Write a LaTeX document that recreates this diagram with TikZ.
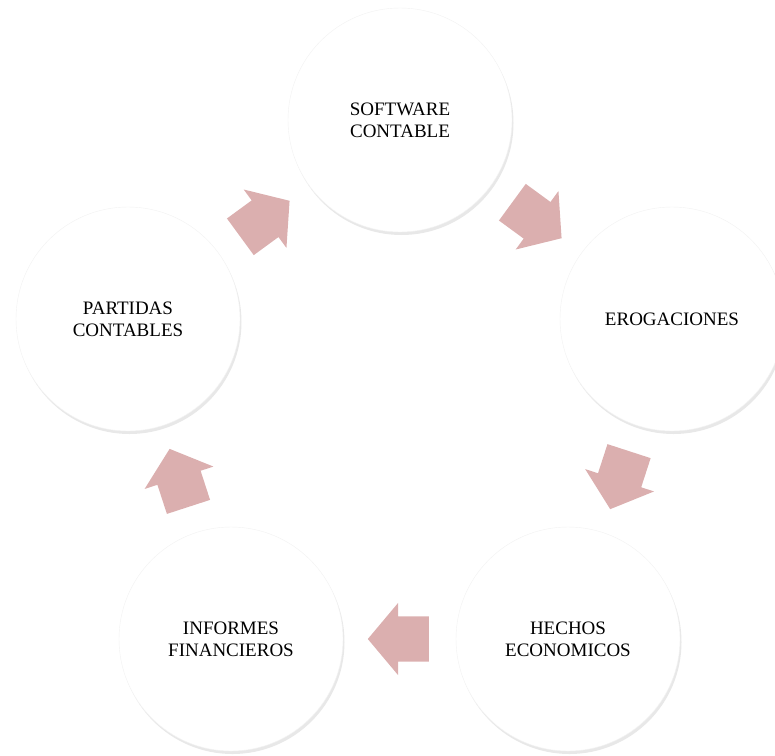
\documentclass[tikz,border=0pt]{standalone}
\usepackage{fontspec}
\setmainfont{Liberation Serif}
\usetikzlibrary{calc, positioning, shapes.arrows, shadows, backgrounds}

\definecolor{cyclepink}{RGB}{219,175,175}

\tikzset{
  stage/.style={circle, fill=white, draw=black!5, minimum size=224pt, inner sep=0pt, align=center,
    font=\fontsize{19}{22}\selectfont,
    drop shadow={opacity=.18, shadow xshift=1.5pt, shadow yshift=-3pt}},
  flow/.style={single arrow, fill=cyclepink, inner xsep=0pt, inner ysep=22.5pt, anchor=tail,
    minimum height=61pt, single arrow head extend=13.5pt, single arrow tip angle=100}
}

\begin{document}
\begin{tikzpicture}[x=1pt, y=-1pt]

  \useasboundingbox (0,0) rectangle (775,755);

  \node[stage] (software) at (400,120) {SOFTWARE\\CONTABLE};
  \node[stage] (erogaciones) at (672,319) {EROGACIONES};
  \node[stage] (hechos) at (568,639) {HECHOS\\ECONOMICOS};
  \node[stage] (informes) at (231,639) {INFORMES\\FINANCIEROS};
  \node[stage] (partidas) at (128,319) {PARTIDAS\\CONTABLES};

  \coordinate (m1) at ($(software)!0.5!(erogaciones)$);
  \coordinate (m2) at ($(erogaciones)!0.5!(hechos)$);
  \coordinate (m3) at ($(hechos)!0.5!(informes)$);
  \coordinate (m4) at ($(informes)!0.5!(partidas)$);
  \coordinate (m5) at ($(partidas)!0.5!(software)$);

  % arrows sit behind the circles
  \begin{scope}[on background layer]
    \node[flow, rotate=-36.2] (a1) at ($(m1)!29.5pt!(software)$) {};
    \node[flow, rotate=-108] (a2) at ($(m2)!29.5pt!(erogaciones)$) {};
    \node[flow, rotate=180] (a3) at ($(m3)!29.5pt!(hechos)$) {};
    \node[flow, rotate=108] (a4) at ($(m4)!29.5pt!(informes)$) {};
    \node[flow, rotate=36.2] (a5) at ($(m5)!29.5pt!(partidas)$) {};
  \end{scope}

\end{tikzpicture}
\end{document}
